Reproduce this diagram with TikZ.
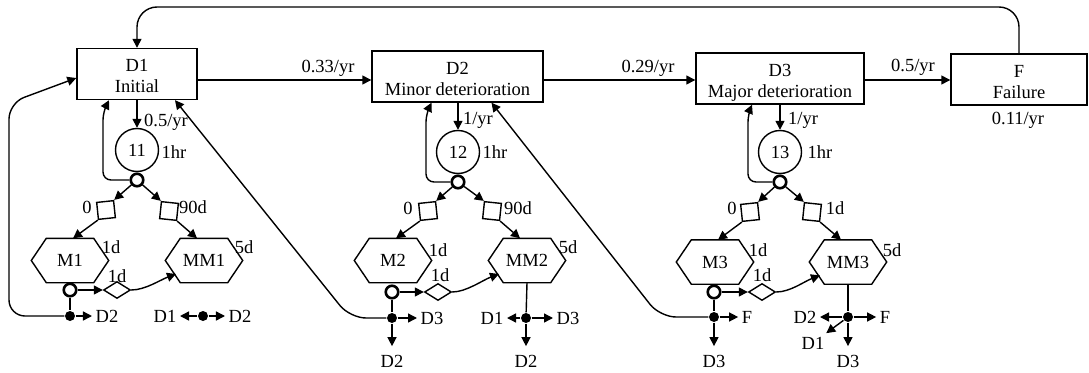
\documentclass[tikz,border=0pt]{standalone}
\usepackage{fontspec}
\setmainfont{Liberation Serif}
\usetikzlibrary{arrows.meta,shapes.geometric,calc}
\newcommand\stbox[2]{\rule{0pt}{21pt}#1\\#2\rule[-5pt]{0pt}{5pt}}
\begin{document}
\begin{tikzpicture}[x=1pt,y=-1pt,
  font=\fontsize{18.5}{21}\selectfont,
  line width=1.4pt,
  >={Triangle[length=9pt,width=9pt]},
  conn/.style={draw,line width=1.4pt},
  arr/.style={conn,->},
  statebox/.style={draw,line width=1.4pt,align=center,inner sep=2pt},
  evcircle/.style={circle,draw,line width=1.4pt,minimum size=43pt,inner sep=0pt},
  gate/.style={circle,draw,line width=2.6pt,fill=white,minimum size=12.5pt,inner sep=0pt},
  jdot/.style={circle,fill=black,minimum size=10pt,inner sep=0pt},
  hexnode/.style={minimum width=76pt,minimum height=43pt,inner sep=0pt},
  delaybox/.style={draw,line width=1.4pt,minimum size=17pt,inner sep=0pt},
  smalldiam/.style={diamond,draw,line width=1.4pt,minimum width=27pt,minimum height=17pt,inner sep=0pt,aspect=1.6},
  lbl/.style={inner sep=1pt},
  jlbl/.style={inner sep=3pt}]
\fill[white] (0,0) rectangle (1089,372);
\useasboundingbox (0,0) rectangle (1089,372);
\coordinate (r80) at (0,80);
% state boxes
\node[statebox,minimum width=120pt,minimum height=44pt] (D1) at (137,74) {\stbox{D1}{Initial}};
\node[statebox,minimum width=171pt,minimum height=45pt] (D2) at (457.5,76.5) {\stbox{D2}{Minor deterioration}};
\node[statebox,minimum width=168pt,minimum height=43pt] (D3) at (780,78.5) {\stbox{D3}{Major deterioration}};
\node[statebox,minimum width=136pt,minimum height=45pt] (F) at (1019,79.5) {\stbox{F}{Failure}};
% rate labels
\node[lbl] (t033) at (328,68) {0.33/yr};
\node[lbl] (t029) at (648,68) {0.29/yr};
\node[lbl] (t05) at (913,67) {0.5/yr};
\node[lbl] (t011) at (1018,120) {0.11/yr};
% events
\node[evcircle] (C11) at (137,150) {11};
\node[evcircle] (C12) at (458,152) {12};
\node[evcircle] (C13) at (780,152) {13};
\node[lbl] (r11) at (166,122) {0.5/yr};
\node[lbl] (r12) at (478,120) {1/yr};
\node[lbl] (r13) at (803,120) {1/yr};
\node[lbl] (h11) at (174,152) {1hr};
\node[lbl] (h12) at (495,152) {1hr};
\node[lbl] (h13) at (820,152) {1hr};
% gates
\node[gate] (G1) at (137,180) {};
\node[gate] (G2) at (458,182) {};
\node[gate] (G3) at (780,182) {};
% delay boxes
\node[delaybox,rotate=6] (LD1) at (106,210) {};
\node[delaybox,rotate=-6] (RD1) at (169,211) {};
\node[delaybox,rotate=6] (LD2) at (428,211) {};
\node[delaybox,rotate=-6] (RD2) at (492,211) {};
\node[delaybox,rotate=6] (LD3) at (750,212) {};
\node[delaybox,rotate=-6] (RD3) at (812,212) {};
\node[lbl] (z1) at (87,207) {0};
\node[lbl] (n1) at (193,207) {90d};
\node[lbl] (z2) at (408,208) {0};
\node[lbl] (n2) at (518,208) {90d};
\node[lbl] (z3) at (732,208) {0};
\node[lbl] (n3) at (835,208) {1d};
% maintenance hexagons
\node[hexnode] (M1) at (70,260.5) {M1};
\node[hexnode] (MM1) at (204,260.5) {MM1};
\node[hexnode] (M2) at (393,260.5) {M2};
\node[hexnode] (MM2) at (527,260.5) {MM2};
\node[hexnode] (M3) at (715,262) {M3};
\node[hexnode] (MM3) at (848,262) {MM3};
\foreach \h in {M1,MM1,M2,MM2,M3,MM3}
  \draw[conn] (\h.west) -- ([xshift=15pt]\h.north west) -- ([xshift=-15pt]\h.north east)
    -- (\h.east) -- ([xshift=-15pt]\h.south east) -- ([xshift=15pt]\h.south west) -- cycle;
\node[lbl] (dm1) at (111,247) {1d};
\node[lbl] (dmm1) at (244,247) {5d};
\node[lbl] (dm2) at (438,250) {1d};
\node[lbl] (dmm2) at (568,247) {5d};
\node[lbl] (dm3) at (758,250) {1d};
\node[lbl] (dmm3) at (892,250) {5d};
% sub gates and small delays
\node[gate] (SG1) at (70,290) {};
\node[gate] (SG2) at (392,292) {};
\node[gate] (SG3) at (714,292) {};
\node[smalldiam] (SD1) at (117,290) {};
\node[smalldiam] (SD2) at (438,292) {};
\node[smalldiam] (SD3) at (762,292) {};
\node[lbl] (s1) at (117,276) {1d};
\node[lbl] (s2) at (440,275) {1d};
\node[lbl] (s3) at (762,275) {1d};
% junctions
\node[jdot] (J1) at (70,316) {};
\node[jdot] (K1) at (203,316) {};
\node[jdot] (J2) at (392,318) {};
\node[jdot] (K2) at (526,318) {};
\node[jdot] (J3) at (714,317) {};
\node[jdot] (K3) at (848,317) {};
\node[jlbl] (a1) at (107,316) {D2};
\node[jlbl] (b1l) at (165,316) {D1};
\node[jlbl] (b1r) at (240,316) {D2};
\node[jlbl] (a2r) at (432,318) {D3};
\node[jlbl] (a2d) at (392,361) {D2};
\node[jlbl] (b2l) at (492,318) {D1};
\node[jlbl] (b2r) at (568,318) {D3};
\node[jlbl] (b2d) at (526,361) {D2};
\node[jlbl] (a3r) at (747,317) {F};
\node[jlbl] (a3d) at (714,361) {D3};
\node[jlbl] (b3l) at (805,317) {D2};
\node[jlbl] (b3r) at (885,317) {F};
\node[jlbl] (b3d) at (848,361) {D3};
\node[jlbl] (b3x) at (813,343) {D1};
% main transitions
\draw[arr] (D1.east |- r80) -- (D2.west |- r80);
\draw[arr] (D2.east |- r80) -- (D3.west |- r80);
\draw[arr] (D3.east |- r80) -- (F.west |- r80);
\draw[arr,rounded corners=20] (F.north) -- (1019,7) -- (137,7) -- (D1.north);
% inspection events
\draw[arr] (D1.south) -- (C11);
\draw[arr] (D2.south -| C12) -- (C12);
\draw[arr] (D3.south) -- (C13);
\draw[arr,rounded corners=8] (G1) -- (103,180) -- (103,112) -- ($(D1.south)+(-28,0)$);
\draw[arr,rounded corners=8] (G2) -- (426,182) -- (426,114) -- ($(D2.south)+(-26,0)$);
\draw[arr,rounded corners=8] (G3) -- (748,182) -- (748,114) -- ($(D3.south)+(-28,0)$);
% to maintenance
\draw[arr] (G1) -- (LD1.north east);
\draw[arr] (LD1.south west) -- ($(M1.north)+(3,0)$);
\draw[arr] (G1) -- (RD1.north west);
\draw[arr] (RD1.south east) -- ($(MM1.north)+(-7,0)$);
\draw[arr] (G2) -- (LD2.north east);
\draw[arr] (LD2.south west) -- ($(M2.north)+(3,0)$);
\draw[arr] (G2) -- (RD2.north west);
\draw[arr] (RD2.south east) -- ($(MM2.north)+(-7,0)$);
\draw[arr] (G3) -- (LD3.north east);
\draw[arr] (LD3.south west) -- ($(M3.north)+(3,0)$);
\draw[arr] (G3) -- (RD3.north west);
\draw[arr] (RD3.south east) -- ($(MM3.north)+(-7,0)$);
% minor to major maintenance
\draw[arr] (SG1) -- (SD1);
\draw[arr] (SD1.east) .. controls +(14,0) and +(-16,6) .. ($(MM1.center)+(-28,13.5)$);
\draw[arr] (SG2) -- (SD2);
\draw[arr] (SD2.east) .. controls +(14,0) and +(-16,6) .. ($(MM2.center)+(-28,13.5)$);
\draw[arr] (SG3) -- (SD3);
\draw[arr] (SD3.east) .. controls +(14,0) and +(-16,6) .. ($(MM3.center)+(-28,13.5)$);
% outcomes column 1
\draw[conn] (SG1) -- (J1);
\draw[arr] (J1) -- (a1);
\draw[arr,rounded corners=16] (J1) -- (9,316) -- (9,103) -- ($(D1.west)+(0,4)$);
\draw[arr] (K1) -- (b1l);
\draw[arr] (K1) -- (b1r);
% outcomes column 2
\draw[conn] (SG2) -- (J2);
\draw[arr] (J2) -- (a2r);
\draw[arr,shorten >=5pt] (J2) -- (a2d);
\draw[arr,rounded corners=16] (J2) -- (350,318) -- ($(D1.south)+(38,0)$);
\draw[conn] (MM2.south) -- (K2);
\draw[arr] (K2) -- (b2l);
\draw[arr] (K2) -- (b2r);
\draw[arr,shorten >=5pt] (K2) -- (b2d);
% outcomes column 3
\draw[conn] (SG3) -- (J3);
\draw[arr] (J3) -- (a3r);
\draw[arr,shorten >=5pt] (J3) -- (a3d);
\draw[arr,rounded corners=16] (J3) -- (660,317) -- ($(D2.south)+(34,0)$);
\draw[conn] (MM3.south) -- (K3);
\draw[arr] (K3) -- (b3l);
\draw[arr] (K3) -- (b3r);
\draw[arr,shorten >=5pt] (K3) -- (b3d);
\draw[arr] (K3) -- (b3x);
\end{tikzpicture}
\end{document}
